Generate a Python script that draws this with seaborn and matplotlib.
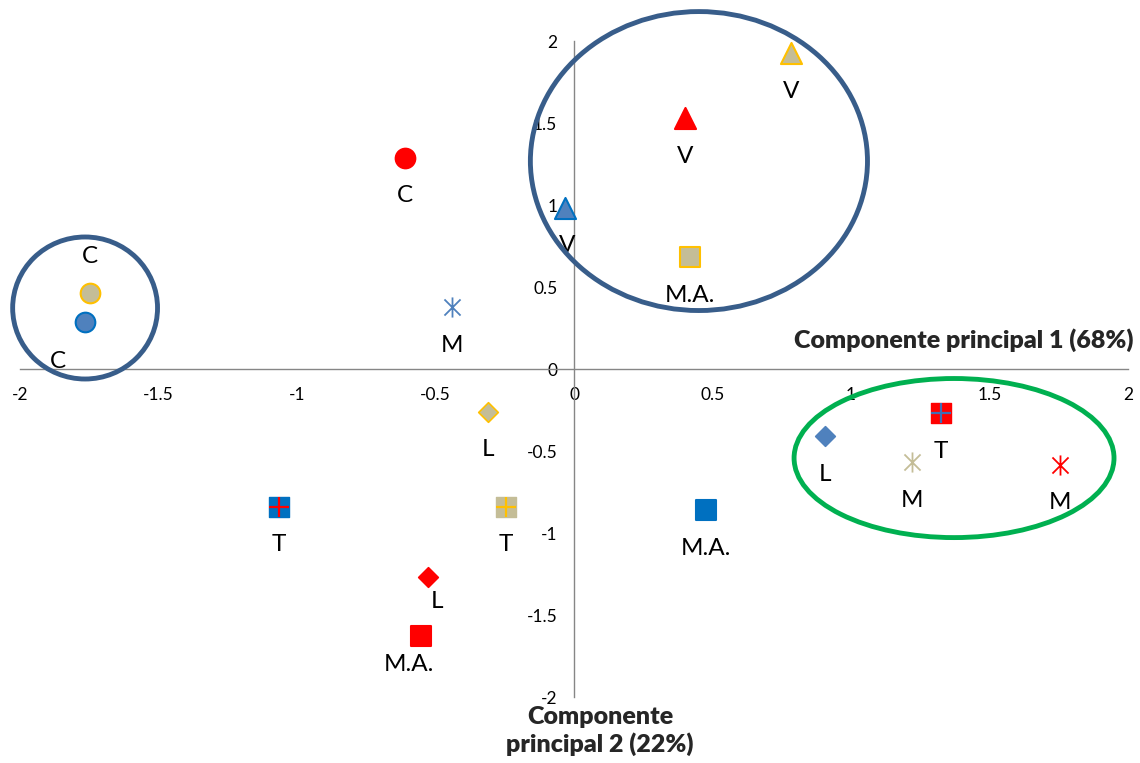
import numpy as np
import pandas as pd
import matplotlib
matplotlib.use("Agg")
import matplotlib.pyplot as plt
from matplotlib.patches import Ellipse
from matplotlib.path import Path
import seaborn as sns

# ---------------- data ----------------
labels = ["C", "V", "M", "L", "T", "M.A."]
blue_x = [-1.765, -0.032, -0.44, 0.906, -1.065, 0.477]
blue_y = [0.287, 0.98, 0.378, -0.41, -0.84, -0.86]
red_x = [-0.61, 0.40, 1.755, -0.527, 1.325, -0.552]
red_y = [1.287, 1.53, -0.585, -1.27, -0.27, -1.63]
gray_x = [-1.747, 0.783, 1.22, -0.31, -0.245, 0.42]
gray_y = [0.463, 1.927, -0.57, -0.26, -0.84, 0.683]
x_ticks = [-2, -1.5, -1, -0.5, 0, 0.5, 1, 1.5, 2]
y_ticks = [-2, -1.5, -1, -0.5, 0, 0.5, 1, 1.5, 2]
x_title = "Componente principal 1 (68%)"
y_title = "Componente\nprincipal 2 (22%)"

df = pd.concat([
    pd.DataFrame({"x": blue_x, "y": blue_y, "label": labels, "series": "blue"}),
    pd.DataFrame({"x": red_x, "y": red_y, "label": labels, "series": "red"}),
    pd.DataFrame({"x": gray_x, "y": gray_y, "label": labels, "series": "gray"}),
], ignore_index=True)

# ---------------- styles ----------------
sns.set_style("white")
plt.rcParams["font.family"] = ["Lato", "DejaVu Sans"]

styles = {
    "blue": dict(fill="#4F81BD", edge="#0070C0", square="#0070C0", plus="#FF0000", star="#4F81BD", diam_edge="#4F81BD", sq_edge="#0070C0"),
    "red": dict(fill="#FF0000", edge="#FF0000", square="#FF0000", plus="#3F6FB5", star="#FF0000", diam_edge="#FF0000", sq_edge="#FF0000"),
    "gray": dict(fill="#C4BD97", edge="#FFC000", square="#C4BD97", plus="#FFC000", star="#C4BD97", diam_edge="#FFC000", sq_edge="#C4BD97"),
}
asterisk = Path([(-1, -1), (1, 1), (-1, 1), (1, -1), (0, -1.25), (0, 1.25)],
                [Path.MOVETO, Path.LINETO, Path.MOVETO, Path.LINETO, Path.MOVETO, Path.LINETO])

label_offsets = {("gray", "C"): (0, 26), ("blue", "C"): (-19.5, -28.8),
                 ("blue", "V"): (1.4, -26.6), ("red", "L"): (6.5, -17.3),
                 ("red", "M.A."): (-8.6, -20.2)}
default_offset = (0, -27.4)

fig = plt.figure(figsize=(11.4, 7.63), dpi=100)
ax = fig.add_axes([20 / 1140, 1 - 697 / 763, 1108 / 1140, 656 / 763])

for (series, lab), sub in df.groupby(["series", "label"]):
    st = styles[series]
    if lab == "C":
        sns.scatterplot(data=sub, x="x", y="y", ax=ax, marker="o", s=200,
                        color=st["fill"], edgecolor=st["edge"], linewidth=1.5, zorder=5)
    elif lab == "V":
        sns.scatterplot(data=sub, x="x", y="y", ax=ax, marker="^", s=230,
                        color=st["fill"], edgecolor=st["edge"], linewidth=1.5, zorder=5)
    elif lab == "L":
        sns.scatterplot(data=sub, x="x", y="y", ax=ax, marker="D", s=100,
                        color=st["fill"], edgecolor=st["diam_edge"], linewidth=1.2, zorder=5)
    elif lab == "M.A.":
        ec = st["edge"] if series == "gray" else st["square"]
        sns.scatterplot(data=sub, x="x", y="y", ax=ax, marker="s", s=215,
                        color=st["square"], edgecolor=ec, linewidth=1.5, zorder=5)
    elif lab == "T":
        sns.scatterplot(data=sub, x="x", y="y", ax=ax, marker="s", s=205,
                        color=st["square"], edgecolor=st["sq_edge"], linewidth=1.0, zorder=5)
        sns.scatterplot(data=sub, x="x", y="y", ax=ax, marker="+", s=200,
                        color=st["plus"], linewidth=1.6, zorder=6)
    elif lab == "M":
        sns.scatterplot(data=sub, x="x", y="y", ax=ax, marker=asterisk, s=210,
                        color=st["star"], edgecolor=st["star"], linewidth=1.3, zorder=5)
    for _, r in sub.iterrows():
        off = label_offsets.get((series, lab), default_offset)
        ax.annotate(lab, (r["x"], r["y"]), xytext=off, textcoords="offset points",
                    ha="center", va="center", fontsize=17.5, color="black", zorder=4)

# ---------------- ellipses (annotations) ----------------
ellipses = [((-1.765, 0.372), 0.523, 0.866, "#385D8A"),
            ((0.451, 1.268), 1.217, 1.823, "#385D8A"),
            ((1.372, -0.543), 1.155, 0.970, "#00B050")]
for c, w, h, col in ellipses:
    ax.add_patch(Ellipse(c, w, h, fill=False, edgecolor=col, linewidth=3.5,
                         clip_on=False, zorder=7))

# ---------------- axes ----------------
ax.set_xlim(-2, 2)
ax.set_ylim(-2, 2)
ax.spines["left"].set_position(("data", 0))
ax.spines["bottom"].set_position(("data", 0))
ax.spines["top"].set_visible(False)
ax.spines["right"].set_visible(False)
for sp in ("left", "bottom"):
    ax.spines[sp].set_color("#868686")
    ax.spines[sp].set_linewidth(1.0)
    ax.spines[sp].set_zorder(2)
ax.set_xticks(x_ticks)
ax.set_yticks(y_ticks)
ax.set_xticklabels([f"{t:g}" for t in x_ticks])
ax.set_yticklabels([f"{t:g}" for t in y_ticks])
ax.tick_params(axis="both", direction="out", length=4, width=1.0, color="#868686",
               labelsize=12.5, labelcolor="black")
ax.tick_params(axis="x", pad=9)
ax.tick_params(axis="y", pad=8)
ax.set_xlabel("")
ax.set_ylabel("")
ax.grid(False)

fig.text(1133 / 1140, 1 - 340 / 763, x_title, ha="right", va="center",
         fontsize=18, fontweight="heavy")
fig.text(600 / 1140, 1 - 731 / 763, y_title, ha="center", va="center",
         fontsize=18, fontweight="heavy", linespacing=1.2)

fig.savefig("out.png", dpi=100)
